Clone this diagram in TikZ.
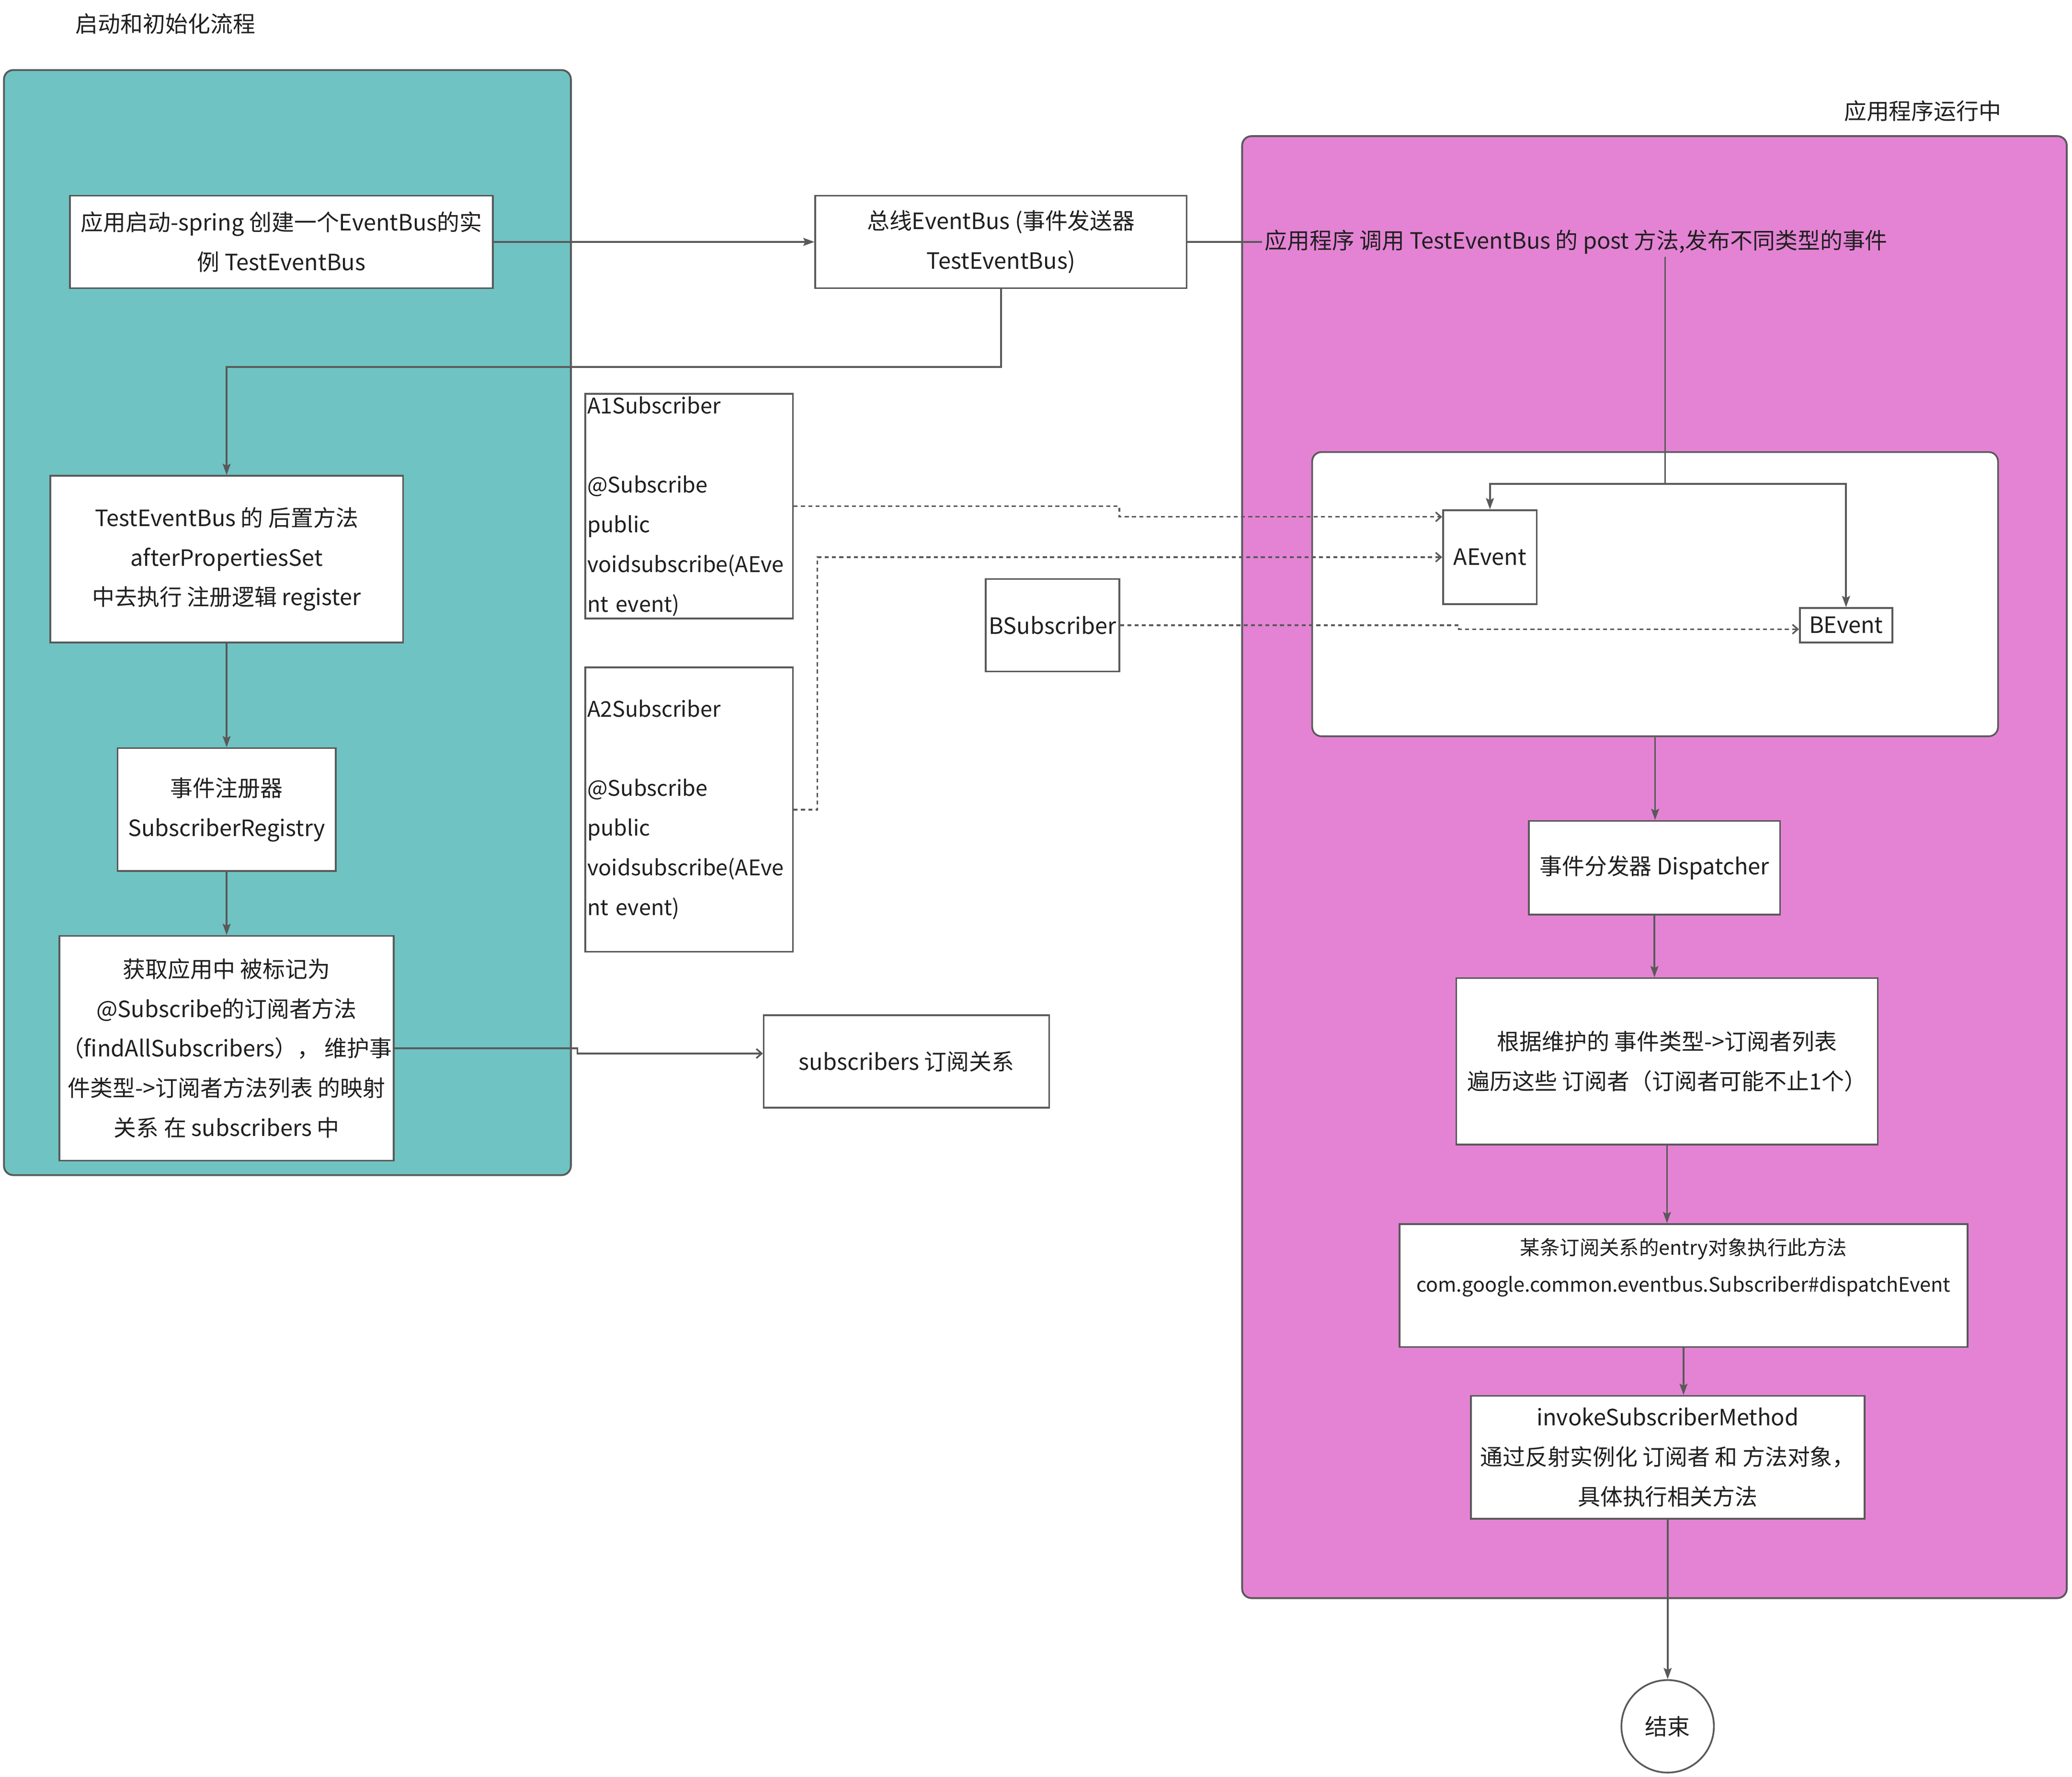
\documentclass[tikz,border=0pt]{standalone}
\usepackage{fontspec}
\setmainfont{Noto Sans CJK SC}
\usetikzlibrary{positioning, arrows.meta}

\definecolor{tealbg}{HTML}{6FC3C3}
\definecolor{pinkbg}{HTML}{E483D4}
\definecolor{edgegray}{HTML}{595959}
\definecolor{ink}{HTML}{1F1F1F}

\tikzset{
  box/.style={draw=edgegray, line width=1.3pt, fill=white, inner sep=0pt, align=center, text=ink},
  codetext/.style={align=left, text width=154pt, inner sep=0pt, text=ink, font=\fontsize{16.3}{30}\selectfont},
  panel/.style={draw=edgegray, line width=1.4pt, rounded corners=7pt},
  flow/.style={draw=edgegray, line width=1.3pt, -{Stealth[length=8.5pt,width=6pt,inset=1.5pt]}},
  plainline/.style={draw=edgegray, line width=1.3pt},
  openflow/.style={draw=edgegray, line width=1.3pt, -{Straight Barb[length=4pt,width=7pt]}},
  link/.style={draw=edgegray, line width=1.2pt, dash pattern=on 3pt off 2.5pt, -{Straight Barb[length=4pt,width=7pt]}},
}

\begin{document}
\begin{tikzpicture}[x=1pt, y=-1pt, font=\fontsize{17}{30}\selectfont]
    \useasboundingbox (0,0) rectangle (1568,1344);

    % two swimlanes
    \draw[panel, fill=tealbg] (3,53) rectangle (432,889);
    \draw[panel, fill=pinkbg] (940,103) rectangle (1564,1209);
    \node[text=ink, anchor=west, inner sep=0] (ttlinit) at (57,18) {启动和初始化流程};
    \node[text=ink, inner sep=0] (ttlrun) at (1455,84) {应用程序运行中};

    % start up
    \node[box, minimum width=320, minimum height=70] (start) at (213,183) {应用启动-spring 创建一个EventBus的实\\例 TestEventBus};
    \node[box, minimum width=281, minimum height=70] (bus) at (757.5,183) {总线EventBus (事件发送器\\TestEventBus)};
    \node[box, minimum width=267, minimum height=126] (reg) at (171.5,423) {TestEventBus 的 后置方法\\afterPropertiesSet\\中去执行 注册逻辑 register};
    \node[box, minimum width=165, minimum height=93] (registry) at (171.5,612.5) {事件注册器\\SubscriberRegistry};
    \node[box, minimum width=253, minimum height=170] (find) at (171.5,793) {获取应用中 被标记为\\@Subscribe的订阅者方法\\（findAllSubscribers），\ 维护事\\件类型->订阅者方法列表 的映射\\关系 在 subscribers 中};
    \node[box, minimum width=216, minimum height=70] (subs) at (686,803) {subscribers 订阅关系};

    % subscribers
    \node[box, minimum width=157, minimum height=170] (a1) at (521.5,383) {};
    \node[codetext] (a1txt) at (a1) {A1Subscriber\\[30pt]@Subscribe\\public\\voidsubscribe(AEve\\nt event)};
    \node[box, minimum width=157, minimum height=215] (a2) at (521.5,612.5) {};
    \node[codetext] (a2txt) at (a2) {A2Subscriber\\[30pt]@Subscribe\\public\\voidsubscribe(AEve\\nt event)};
    \node[box, minimum width=101, minimum height=70] (bsub) at (796.5,473) {BSubscriber};

    % running
    \node[text=ink, anchor=west, inner sep=2pt] (call) at (955,183) {应用程序 调用 TestEventBus 的 post 方法,发布不同类型的事件};
    \node[box, rounded corners=7pt, minimum width=519, minimum height=215] (events) at (1252.5,449.5) {};
    \node[box, minimum width=71, minimum height=71] (aev) at (1127.5,421.5) {AEvent};
    \node[box, minimum width=70, minimum height=26] (bev) at (1397,473) {BEvent};
    \node[box, minimum width=190, minimum height=71] (disp) at (1252,656.5) {事件分发器 Dispatcher};
    \node[box, minimum width=319, minimum height=126] (iter) at (1261.5,803) {根据维护的 事件类型->订阅者列表\\遍历这些 订阅者（订阅者可能不止1个）};
    \node[box, minimum width=430, minimum height=93] (entry) at (1274,972.5) {};
    \node[text=ink, align=center, inner sep=0pt, font=\fontsize{15}{28}\selectfont] (entrytxt) at ([yshift=13.5pt]entry.center) {某条订阅关系的entry对象执行此方法\\com.google.common.eventbus.Subscriber\#dispatchEvent};
    \node[box, minimum width=298, minimum height=93] (invoke) at (1262,1102.5) {invokeSubscriberMethod\\通过反射实例化 订阅者 和 方法对象，\\具体执行相关方法};
    \node[box, circle, minimum size=70] (stop) at (1262,1306) {结束};
    \coordinate (split) at (1260,366);

    % connectors, left lane
    \draw[flow] (start) -- (bus);
    \draw[flow] (bus.south) -- ++(0,59) -| (reg.north);
    \draw[flow] (reg) -- (registry);
    \draw[flow] (registry) -- (find);
    \draw[openflow] (find.east) -| (437,797) -- (subs.west |- 0,797);

    % dashed subscriptions
    \draw[link] (a1.east) -| (847,391) -- (aev.west |- 0,391);
    \draw[link] (a2.east) -- ++(18,0) |- (aev.west);
    \draw[link] (bsub.east) -| (1104,476) -- (bev.west |- 0,476);

    % connectors, right lane
    \draw[plainline] (bus) -- (call);
    \draw[plainline] (call.south -| split) -- (split);
    \draw[flow] (split) -| (aev.north);
    \draw[flow] (split) -| (bev.north);
    \draw[flow] (events.south) -- (events.south |- disp.north);
    \draw[flow] (disp.south) -- (disp.south |- iter.north);
    \draw[flow] (iter.south) -- (iter.south |- entry.north);
    \draw[flow] (entry.south) -- (entry.south |- invoke.north);
    \draw[flow] (invoke.south) -- (stop.north);
\end{tikzpicture}
\end{document}
